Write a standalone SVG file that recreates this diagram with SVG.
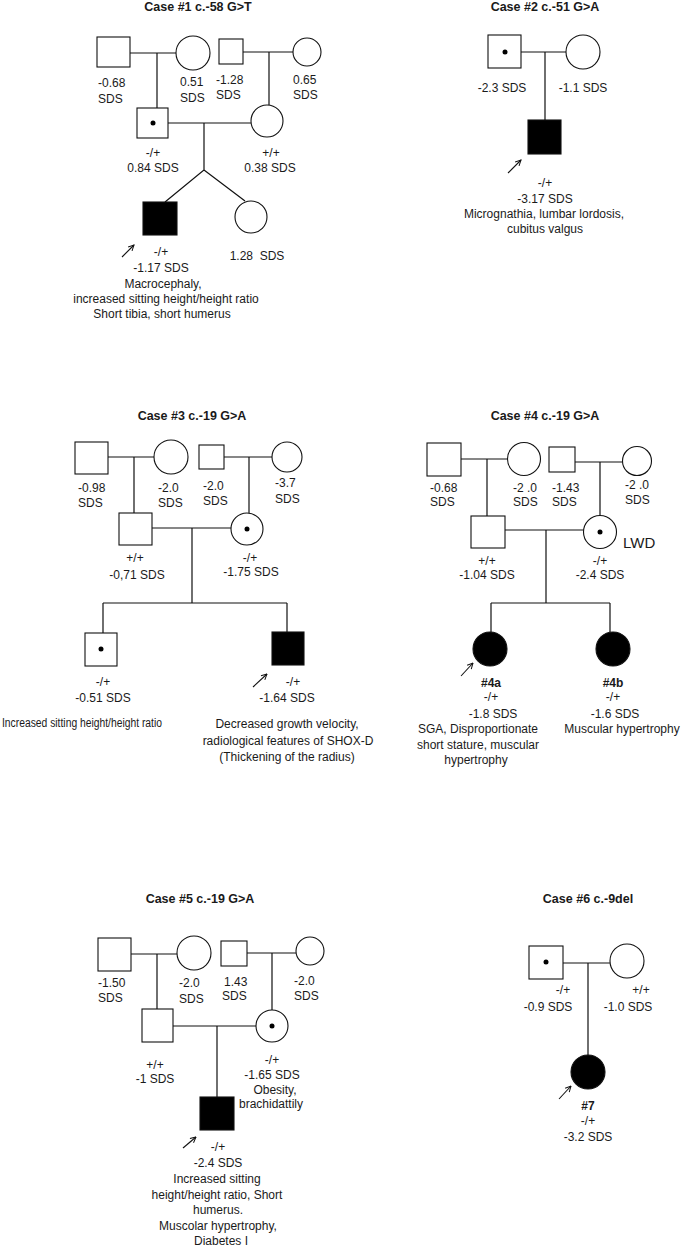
<svg xmlns="http://www.w3.org/2000/svg" width="684" height="1248" viewBox="0 0 684 1248">
<defs>
<marker id="ah" viewBox="0 0 10 10" refX="9" refY="5" markerWidth="7" markerHeight="7" markerUnits="userSpaceOnUse" orient="auto">
<path d="M1,1 L9,5 L1,9" fill="none" stroke="#111" stroke-width="1.4"/>
</marker>
</defs>
<style>
.m{fill:#fff;stroke:#111;stroke-width:1.1}
.a{fill:#000;stroke:#111;stroke-width:1.1}
.d{fill:#000}
.ln{stroke:#111;stroke-width:1.2;fill:none}
.ar{stroke:#111;stroke-width:1.1;fill:none;marker-end:url(#ah)}
text{font-family:"Liberation Sans",Arial,sans-serif;font-size:12px;fill:#1a1a1a}
.c{text-anchor:middle}
.t{font-weight:bold;font-size:12.5px;text-anchor:middle}
.b{font-weight:bold}
.lwd{font-size:15px}
</style>
<rect width="684" height="1248" fill="#fff"/>

<g id="titles">
<text class="t" x="198" y="11">Case #1 c.-58 G&gt;T</text>
<text class="t" x="545" y="11">Case #2 c.-51 G&gt;A</text>
<text class="t" x="192" y="420">Case #3 c.-19 G&gt;A</text>
<text class="t" x="545" y="420">Case #4 c.-19 G&gt;A</text>
<text class="t" x="200" y="903">Case #5 c.-19 G&gt;A</text>
<text class="t" x="588" y="903">Case #6 c.-9del</text>
</g>

<g id="connectors">
<!-- case 1 -->
<path class="ln" d="M130,53H176 M157,53V108 M243,52H293 M269,52V105 M168,123H251 M204,123V170 L165,202 M204,170 L245,201"/>
<!-- case 2 -->
<path class="ln" d="M521,52H566 M545,52V120"/>
<!-- case 3 -->
<path class="ln" d="M108,457H154 M134,457V513 M224,457H272 M249,457V513 M152,528H231 M192,528V603 M103,603H287 M103,603V633 M287,603V632"/>
<!-- case 4 -->
<path class="ln" d="M461,459H507.5 M487,459V516 M575,462H622.5 M600,462V515.5 M505,530H583.5 M546,530V603 M491,603H610 M491,603V632 M610,603V632"/>
<!-- case 5 -->
<path class="ln" d="M131,954H177 M157,954V1009 M247,953H296 M272,953V1010 M173,1026H256 M217,1026V1097"/>
<!-- case 6 -->
<path class="ln" d="M563,963H610 M588,963V1055"/>
<!-- proband arrows -->
<line class="ar" x1="122" y1="257" x2="134" y2="245"/>
<line class="ar" x1="508" y1="173" x2="521" y2="160"/>
<line class="ar" x1="253" y1="687" x2="267" y2="674"/>
<line class="ar" x1="461" y1="676" x2="473" y2="663"/>
<line class="ar" x1="183" y1="1148" x2="196" y2="1137"/>
<line class="ar" x1="559" y1="1099" x2="571" y2="1086"/>
</g>

<!-- ===== Case 1 ===== -->
<g id="c1_gf1"><rect class="m" x="97" y="37" width="33" height="30"/><text x="98" y="87">-0.68</text><text x="98" y="103">SDS</text></g>
<g id="c1_gm1"><circle class="m" cx="193" cy="53" r="17"/><text x="180" y="86">0.51</text><text x="180" y="102">SDS</text></g>
<g id="c1_gf2"><rect class="m" x="219" y="39" width="24" height="25"/><text x="216" y="84">-1.28</text><text x="216" y="99">SDS</text></g>
<g id="c1_gm2"><circle class="m" cx="307" cy="52" r="14"/><text x="293" y="84">0.65</text><text x="293" y="99">SDS</text></g>
<g id="c1_father"><rect class="m" x="137" y="108" width="31" height="30"/><circle class="d" cx="153" cy="123" r="2.5"/><text class="c" x="153" y="157">-/+</text><text class="c" x="153" y="172">0.84 SDS</text></g>
<g id="c1_mother"><circle class="m" cx="267" cy="121" r="16"/><text class="c" x="271" y="157">+/+</text><text class="c" x="270" y="172">0.38 SDS</text></g>
<g id="c1_proband"><rect class="a" x="143" y="202" width="34" height="33"/><text class="c" x="161" y="256">-/+</text><text class="c" x="161" y="272">-1.17 SDS</text><text class="c" x="163" y="288">Macrocephaly,</text><text class="c" x="166" y="303">increased sitting height/height ratio</text><text class="c" x="162" y="318">Short tibia, short humerus</text></g>
<g id="c1_sister"><circle class="m" cx="251" cy="217" r="16"/><text class="c" x="257" y="260" xml:space="preserve">1.28  SDS</text></g>

<!-- ===== Case 2 ===== -->
<g id="c2_father"><rect class="m" x="488" y="35" width="33" height="33"/><circle class="d" cx="505" cy="52" r="2.5"/><text class="c" x="502" y="92">-2.3 SDS</text></g>
<g id="c2_mother"><circle class="m" cx="583" cy="52" r="17"/><text class="c" x="583" y="92">-1.1 SDS</text></g>
<g id="c2_proband"><rect class="a" x="528" y="120" width="33" height="34"/><text class="c" x="545" y="187">-/+</text><text class="c" x="545" y="203">-3.17 SDS</text><text class="c" x="544" y="218">Micrognathia, lumbar lordosis,</text><text class="c" x="545" y="233">cubitus valgus</text></g>

<!-- ===== Case 3 ===== -->
<g id="c3_gf1"><rect class="m" x="75" y="442" width="33" height="32"/><text x="78" y="492">-0.98</text><text x="78" y="507">SDS</text></g>
<g id="c3_gm1"><circle class="m" cx="171" cy="457" r="17"/><text x="158" y="492">-2.0</text><text x="158" y="507">SDS</text></g>
<g id="c3_gf2"><rect class="m" x="199" y="445" width="25" height="24"/><text x="203" y="490">-2.0</text><text x="203" y="505">SDS</text></g>
<g id="c3_gm2"><circle class="m" cx="287" cy="457" r="15"/><text x="275" y="487">-3.7</text><text x="275" y="503">SDS</text></g>
<g id="c3_father"><rect class="m" x="119" y="513" width="33" height="32"/><text class="c" x="135" y="562">+/+</text><text class="c" x="137" y="579">-0,71 SDS</text></g>
<g id="c3_mother"><circle class="m" cx="247" cy="529" r="16"/><circle class="d" cx="247" cy="529" r="2.5"/><text class="c" x="250" y="562">-/+</text><text class="c" x="251" y="576">-1.75 SDS</text></g>
<g id="c3_sib"><rect class="m" x="85" y="633" width="32" height="33"/><circle class="d" cx="101" cy="649" r="2.5"/><text class="c" x="103" y="686">-/+</text><text class="c" x="103" y="702">-0.51 SDS</text><text x="2" y="727" textLength="160" lengthAdjust="spacingAndGlyphs">Increased sitting height/height ratio</text></g>
<g id="c3_proband"><rect class="a" x="272" y="632" width="32" height="33"/><text class="c" x="293" y="686">-/+</text><text class="c" x="287" y="702">-1.64 SDS</text><text class="c" x="287" y="728">Decreased growth velocity,</text><text class="c" x="288" y="745">radiological features of SHOX-D</text><text class="c" x="287" y="761">(Thickening of the radius)</text></g>

<!-- ===== Case 4 ===== -->
<g id="c4_gf1"><rect class="m" x="427" y="443" width="34" height="33"/><text x="430" y="492">-0.68</text><text x="430" y="506">SDS</text></g>
<g id="c4_gm1"><circle class="m" cx="524" cy="459" r="16.5"/><text x="513" y="492" xml:space="preserve">-2 .0</text><text x="513" y="506">SDS</text></g>
<g id="c4_gf2"><rect class="m" x="549" y="447" width="26" height="25"/><text x="552" y="492">-1.43</text><text x="552" y="506">SDS</text></g>
<g id="c4_gm2"><circle class="m" cx="637" cy="461" r="14.5"/><text x="625" y="489" xml:space="preserve">-2 .0</text><text x="625" y="504">SDS</text></g>
<g id="c4_father"><rect class="m" x="471" y="516" width="34" height="32"/><text class="c" x="487" y="565">+/+</text><text class="c" x="487" y="579">-1.04 SDS</text></g>
<g id="c4_mother"><circle class="m" cx="600" cy="532" r="16.5"/><circle class="d" cx="600" cy="532" r="2.5"/><text class="lwd" x="623" y="548">LWD</text><text class="c" x="600" y="565">-/+</text><text class="c" x="600" y="579">-2.4 SDS</text></g>
<g id="c4_4a"><circle class="a" cx="490" cy="649" r="17"/><text class="c b" x="491" y="687">#4a</text><text class="c" x="491" y="701">-/+</text><text class="c" x="493" y="718">-1.8 SDS</text><text class="c" x="478" y="733">SGA, Disproportionate</text><text class="c" x="478" y="749">short stature, muscular</text><text class="c" x="476" y="764">hypertrophy</text></g>
<g id="c4_4b"><circle class="a" cx="613" cy="649" r="17"/><text class="c b" x="613" y="687">#4b</text><text class="c" x="613" y="701">-/+</text><text class="c" x="615" y="718">-1.6 SDS</text><text class="c" x="622" y="733">Muscular hypertrophy</text></g>

<!-- ===== Case 5 ===== -->
<g id="c5_gf1"><rect class="m" x="98" y="938" width="33" height="33"/><text x="98" y="987">-1.50</text><text x="98" y="1002">SDS</text></g>
<g id="c5_gm1"><circle class="m" cx="194" cy="953" r="17"/><text x="179" y="987">-2.0</text><text x="179" y="1003">SDS</text></g>
<g id="c5_gf2"><rect class="m" x="221" y="941" width="26" height="25"/><text x="224" y="986">1.43</text><text x="222" y="1000">SDS</text></g>
<g id="c5_gm2"><circle class="m" cx="310" cy="951" r="14"/><text x="294" y="985">-2.0</text><text x="294" y="1000">SDS</text></g>
<g id="c5_father"><rect class="m" x="142" y="1009" width="31" height="33"/><text class="c" x="155" y="1069">+/+</text><text class="c" x="155" y="1083">-1 SDS</text></g>
<g id="c5_mother"><circle class="m" cx="272" cy="1026" r="16"/><circle class="d" cx="272" cy="1026" r="2.5"/><text class="c" x="272" y="1064">-/+</text><text class="c" x="272" y="1079">-1.65 SDS</text><text class="c" x="275" y="1094">Obesity,</text><text class="c" x="271" y="1108">brachidattily</text></g>
<g id="c5_proband"><rect class="a" x="200" y="1097" width="34" height="33"/><text class="c" x="218" y="1151">-/+</text><text class="c" x="218" y="1167">-2.4 SDS</text><text class="c" x="217" y="1183">Increased sitting</text><text class="c" x="217" y="1199">height/height ratio, Short</text><text class="c" x="218" y="1214">humerus.</text><text class="c" x="218" y="1230">Muscolar hypertrophy,</text><text class="c" x="221" y="1245">Diabetes I</text></g>

<!-- ===== Case 6 ===== -->
<g id="c6_father"><rect class="m" x="529" y="946" width="34" height="33"/><circle class="d" cx="546" cy="962" r="2.5"/><text class="c" x="563" y="994">-/+</text><text class="c" x="548" y="1011">-0.9 SDS</text></g>
<g id="c6_mother"><circle class="m" cx="627" cy="961" r="17"/><text class="c" x="641" y="994">+/+</text><text class="c" x="628" y="1011">-1.0 SDS</text></g>
<g id="c6_proband"><circle class="a" cx="588" cy="1072" r="17"/><text class="c b" x="588" y="1110">#7</text><text class="c" x="588" y="1125">-/+</text><text class="c" x="588" y="1141">-3.2 SDS</text></g>
</svg>
